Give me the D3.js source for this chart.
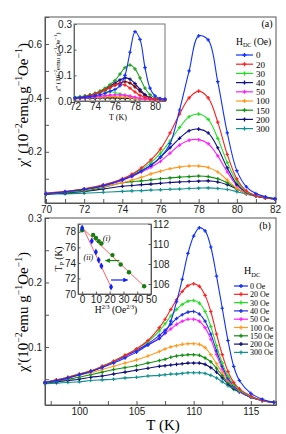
<!DOCTYPE html>
<html>
<head>
<meta charset="utf-8">
<script src="https://cdn.jsdelivr.net/npm/d3@7"></script>
<style>
  body { margin: 0; background: #fff; }
  svg { font-family: "Liberation Serif", "DejaVu Serif", serif; }
  .axis path { stroke: #555; }
  .axis line { stroke: #555; }
  .axis text { font-size: 10px; fill: #222; }
</style>
</head>
<body>
<div class="canvas"></div>
<script>
// ---------- data ----------
const fields = ['0', '20', '30', '40', '50', '100', '150', '200', '300'];
const colorsA = ['#1030ff', '#ff2020', '#20e020', '#10108a', '#ff20ff', '#ff9a20', '#109010', '#10107a', '#109090'];
const colorsB = ['#1030ff', '#ff2020', '#20e020', '#2030e0', '#ff20ff', '#ff9a20', '#109010', '#10107a', '#109090'];

// panel (a): chi' vs T
const tA = [70, 71, 72, 73, 74, 74.5, 75, 75.5, 76, 76.5, 77, 77.5, 78, 78.5, 79, 79.5, 80, 80.5, 81, 81.5, 82];
const a0   = [0.045, 0.052, 0.061, 0.075, 0.097, 0.11, 0.128, 0.15, 0.18, 0.23, 0.355, 0.5, 0.63, 0.615, 0.46, 0.27, 0.13, 0.07, 0.045, 0.033, 0.025];
const a20  = [0.046, 0.053, 0.063, 0.078, 0.1, 0.117, 0.14, 0.17, 0.21, 0.27, 0.34, 0.4, 0.425, 0.4, 0.31, 0.19, 0.1, 0.055, 0.038, 0.03, 0.025];
const a30  = [0.045, 0.052, 0.062, 0.076, 0.098, 0.114, 0.135, 0.16, 0.195, 0.24, 0.29, 0.33, 0.34, 0.32, 0.25, 0.16, 0.09, 0.052, 0.037, 0.03, 0.025];
const a40  = [0.044, 0.051, 0.06, 0.074, 0.096, 0.111, 0.13, 0.15, 0.18, 0.215, 0.25, 0.278, 0.284, 0.27, 0.215, 0.14, 0.08, 0.05, 0.036, 0.029, 0.025];
const a50  = [0.044, 0.051, 0.06, 0.073, 0.094, 0.108, 0.125, 0.143, 0.165, 0.195, 0.225, 0.243, 0.245, 0.23, 0.185, 0.125, 0.075, 0.048, 0.035, 0.029, 0.025];
const a100 = [0.045, 0.051, 0.058, 0.07, 0.085, 0.095, 0.105, 0.118, 0.128, 0.137, 0.143, 0.147, 0.147, 0.142, 0.125, 0.095, 0.065, 0.045, 0.035, 0.029, 0.025];
const a150 = [0.044, 0.049, 0.055, 0.068, 0.085, 0.089, 0.092, 0.096, 0.1, 0.103, 0.106, 0.108, 0.11, 0.108, 0.1, 0.085, 0.063, 0.045, 0.035, 0.029, 0.025];
const a200 = [0.043, 0.047, 0.053, 0.062, 0.072, 0.075, 0.078, 0.08, 0.083, 0.086, 0.088, 0.09, 0.091, 0.092, 0.088, 0.078, 0.062, 0.046, 0.036, 0.03, 0.026];
const a300 = [0.042, 0.044, 0.046, 0.05, 0.053, 0.055, 0.056, 0.058, 0.059, 0.061, 0.062, 0.064, 0.065, 0.066, 0.064, 0.06, 0.052, 0.043, 0.036, 0.031, 0.027];

// inset of (a): chi'' vs T
const tIn = [72, 72.5, 73, 73.5, 74, 74.5, 75, 75.5, 76, 76.5, 77, 77.5, 78, 78.5, 79, 79.5, 80, 80.5, 81];
const i0   = [0.012, 0.013, 0.015, 0.017, 0.02, 0.025, 0.03, 0.038, 0.045, 0.06, 0.1, 0.19, 0.27, 0.24, 0.13, 0.05, 0.02, 0.01, 0.008];
const i20  = [0.012, 0.014, 0.017, 0.021, 0.027, 0.034, 0.043, 0.053, 0.062, 0.066, 0.062, 0.05, 0.035, 0.022, 0.014, 0.01, 0.008, 0.007, 0.006];
const i30  = [0.013, 0.015, 0.018, 0.023, 0.03, 0.039, 0.05, 0.064, 0.08, 0.105, 0.13, 0.14, 0.125, 0.09, 0.05, 0.025, 0.012, 0.008, 0.006];
const i40  = [0.012, 0.014, 0.017, 0.022, 0.028, 0.036, 0.046, 0.058, 0.07, 0.082, 0.09, 0.085, 0.068, 0.045, 0.025, 0.013, 0.008, 0.006, 0.005];
const i50  = [0.011, 0.012, 0.013, 0.015, 0.017, 0.019, 0.021, 0.023, 0.024, 0.024, 0.022, 0.019, 0.015, 0.011, 0.008, 0.006, 0.005, 0.005, 0.004];
const i100 = [0.01, 0.011, 0.012, 0.013, 0.014, 0.015, 0.016, 0.017, 0.017, 0.016, 0.015, 0.013, 0.011, 0.009, 0.007, 0.006, 0.005, 0.004, 0.004];
const i150 = [0.015, 0.017, 0.02, 0.024, 0.029, 0.033, 0.036, 0.036, 0.033, 0.028, 0.022, 0.016, 0.012, 0.009, 0.007, 0.006, 0.005, 0.004, 0.004];
const i200 = [0.012, 0.014, 0.017, 0.021, 0.026, 0.033, 0.042, 0.052, 0.062, 0.07, 0.075, 0.07, 0.055, 0.038, 0.022, 0.012, 0.008, 0.006, 0.005];
const i300 = [0.009, 0.01, 0.01, 0.011, 0.011, 0.012, 0.012, 0.012, 0.012, 0.011, 0.011, 0.01, 0.009, 0.008, 0.007, 0.006, 0.005, 0.004, 0.004];

// panel (b): chi' vs T
const tB = [97, 98, 99, 100, 101, 102, 103, 104, 105, 106, 107, 107.5, 108, 108.5, 109, 109.5, 110, 110.5, 111, 111.5, 112, 112.5, 113, 113.5, 114, 115, 116, 117];
const b0   = [0.045, 0.048, 0.052, 0.057, 0.062, 0.068, 0.075, 0.083, 0.092, 0.103, 0.113, 0.122, 0.14, 0.17, 0.205, 0.245, 0.272, 0.285, 0.28, 0.255, 0.21, 0.16, 0.11, 0.07, 0.048, 0.028, 0.019, 0.014];
const b20  = [0.045, 0.049, 0.053, 0.058, 0.063, 0.07, 0.078, 0.087, 0.097, 0.11, 0.13, 0.143, 0.158, 0.173, 0.186, 0.195, 0.198, 0.194, 0.18, 0.155, 0.12, 0.088, 0.062, 0.045, 0.035, 0.024, 0.017, 0.014];
const b30  = [0.045, 0.049, 0.053, 0.058, 0.063, 0.07, 0.078, 0.087, 0.097, 0.108, 0.125, 0.136, 0.148, 0.158, 0.166, 0.171, 0.172, 0.168, 0.155, 0.132, 0.102, 0.075, 0.055, 0.042, 0.033, 0.023, 0.017, 0.014];
const b40  = [0.045, 0.048, 0.052, 0.057, 0.062, 0.069, 0.077, 0.086, 0.095, 0.105, 0.118, 0.126, 0.135, 0.144, 0.15, 0.154, 0.155, 0.151, 0.14, 0.12, 0.094, 0.07, 0.052, 0.04, 0.032, 0.022, 0.017, 0.014];
const b50  = [0.045, 0.048, 0.052, 0.057, 0.062, 0.069, 0.077, 0.085, 0.094, 0.103, 0.114, 0.121, 0.128, 0.135, 0.14, 0.143, 0.143, 0.14, 0.13, 0.112, 0.088, 0.066, 0.05, 0.039, 0.031, 0.022, 0.017, 0.014];
const b100 = [0.045, 0.048, 0.051, 0.056, 0.06, 0.065, 0.07, 0.075, 0.08, 0.086, 0.093, 0.097, 0.1, 0.102, 0.104, 0.105, 0.105, 0.104, 0.099, 0.088, 0.074, 0.06, 0.048, 0.039, 0.033, 0.022, 0.017, 0.014];
const b150 = [0.045, 0.047, 0.05, 0.053, 0.057, 0.061, 0.065, 0.068, 0.071, 0.075, 0.079, 0.081, 0.084, 0.086, 0.087, 0.088, 0.088, 0.087, 0.083, 0.077, 0.067, 0.056, 0.045, 0.037, 0.031, 0.022, 0.017, 0.014];
const b200 = [0.044, 0.046, 0.048, 0.05, 0.053, 0.055, 0.058, 0.061, 0.064, 0.067, 0.07, 0.071, 0.072, 0.073, 0.074, 0.075, 0.075, 0.075, 0.073, 0.068, 0.061, 0.052, 0.043, 0.036, 0.031, 0.022, 0.017, 0.014];
const b300 = [0.043, 0.044, 0.045, 0.046, 0.048, 0.049, 0.05, 0.052, 0.053, 0.055, 0.056, 0.057, 0.058, 0.058, 0.059, 0.06, 0.06, 0.06, 0.059, 0.056, 0.052, 0.046, 0.04, 0.034, 0.03, 0.022, 0.017, 0.014];

// inset of (b): peak temperature vs H^(2/3)
const hI  = [0, 8, 10, 12, 14, 22, 28, 34, 45];
const tpI = [78.2, 77.6, 77.2, 76.8, 76.5, 75.0, 73.8, 72.8, 71.0];
const hII  = [0, 7, 10, 12, 14, 21];
const tpII = [111.6, 110.3, 109.2, 108.4, 107.8, 105.7];
const fitI  = [[0, 78.5], [45, 71.0]];
const fitII = [[0, 111.8], [21, 105.7]];

// ---------- layout ----------
const W = 286, H = 434;
const svg = d3.select('.canvas').append('svg')
  .attr('width', W)
  .attr('height', H);

const frameA = { left: 45, right: 276, top: 17, bottom: 203 };
const frameB = { left: 45, right: 276, top: 218, bottom: 405 };

// rich text helper: parts = [[text, kind], ...]
function richText(sel, parts, size) {
  parts.forEach(([t, kind]) => {
    const ts = sel.append('tspan').text(t);
    if (kind === 'sup') ts.attr('font-size', size * 0.65).attr('dy', -size * 0.38);
    if (kind === 'sub') ts.attr('font-size', size * 0.65).attr('dy', size * 0.25);
    if (kind === 'back') ts.attr('dy', size * 0.38);
    if (kind === 'backsub') ts.attr('dy', -size * 0.25);
  });
}

function drawSeries(g, x, y, xs, ys, color, sym) {
  const pts = xs.map((t, i) => [t, ys[i]]);
  const line = d3.line().x(d => x(d[0])).y(d => y(d[1])).curve(d3.curveCatmullRom);
  g.append('path')
    .attr('d', line(pts))
    .attr('fill', 'none')
    .attr('stroke', color)
    .attr('stroke-width', 1.1);
  if (sym) {
    g.selectAll(null).data(pts).enter().append('path')
      .attr('d', d3.symbol().type(d3.symbolCross).size(7))
      .attr('transform', d => `translate(${x(d[0])},${y(d[1])})`)
      .attr('fill', color);
  }
}

// ---------- panel (a) ----------
const xA = d3.scaleLinear().domain([70, 82]).range([46, 275]);
const yA = d3.scaleLinear().domain([0.01, 0.70]).range([frameA.bottom, frameA.top]);

svg.append('g').attr('class', 'axis')
  .attr('transform', `translate(0, ${frameA.bottom})`)
  .call(d3.axisBottom(xA).tickValues(d3.range(70, 83, 1)).tickSize(-4).tickPadding(3)
    .tickFormat(d => d % 2 === 0 ? d : ''));
svg.append('g').attr('class', 'axis')
  .attr('transform', `translate(${frameA.left}, 0)`)
  .call(d3.axisLeft(yA).tickValues([0.1, 0.2, 0.3, 0.4, 0.5, 0.6]).tickSize(-4).tickPadding(3)
    .tickFormat(d => [0.2, 0.4, 0.6].includes(d) ? d.toFixed(1) : ''));
svg.append('rect')
  .attr('x', frameA.left).attr('y', frameA.top)
  .attr('width', frameA.right - frameA.left).attr('height', frameA.bottom - frameA.top)
  .attr('fill', 'none').attr('stroke', '#555');

const gA = svg.append('g');
const seriesA = [a0, a20, a30, a40, a50, a100, a150, a200, a300];
seriesA.slice().reverse().forEach((s, k) => {
  const i = seriesA.length - 1 - k;
  drawSeries(gA, xA, yA, tA, s, colorsA[i], true);
});

svg.append('text')
  .attr('transform', `translate(28, 105) rotate(-90)`)
  .attr('text-anchor', 'middle')
  .attr('font-size', 15)
  .call(richText, [["χ' (10", null], ['−2', 'sup'], ['emu g', 'back'], ['−1', 'sup'], ['Oe', 'back'], ['−1', 'sup'], [')', 'back']], 15);

svg.append('text').attr('x', 267).attr('y', 27).attr('text-anchor', 'middle')
  .attr('font-size', 10).text('(a)');

// legend (a)
const legA = svg.append('g');
legA.append('text').attr('x', 236).attr('y', 45).attr('font-size', 9.5)
  .call(richText, [['H', null], ['DC', 'sub'], [' (Oe)', 'backsub']], 9.5);
fields.forEach((f, i) => {
  const yy = 55 + i * 9.2;
  legA.append('line').attr('x1', 236).attr('x2', 253).attr('y1', yy).attr('y2', yy)
    .attr('stroke', colorsA[i]).attr('stroke-width', 1.2);
  legA.append('path').attr('d', d3.symbol().type(d3.symbolCross).size(9))
    .attr('transform', `translate(244.5,${yy})`).attr('fill', colorsA[i]);
  legA.append('text').attr('x', 256).attr('y', yy + 3.3).attr('font-size', 9).text(f);
});

// inset (a)
const inA = { left: 74, right: 165, top: 24, bottom: 101 };
const xIa = d3.scaleLinear().domain([72, 81]).range([75, 165]);
const yIa = d3.scaleLinear().domain([0, 0.3]).range([inA.bottom, inA.top]);
svg.append('rect')
  .attr('x', inA.left).attr('y', inA.top)
  .attr('width', inA.right - inA.left).attr('height', inA.bottom - inA.top)
  .attr('fill', '#fff').attr('stroke', 'none');
const inAxX = svg.append('g').attr('class', 'axis')
  .attr('transform', `translate(0, ${inA.bottom})`)
  .call(d3.axisBottom(xIa).tickValues([72, 73, 74, 75, 76, 77, 78, 79, 80, 81]).tickSize(-2.5).tickPadding(2)
    .tickFormat(d => d % 2 === 0 ? d : ''));
const inAxY = svg.append('g').attr('class', 'axis')
  .attr('transform', `translate(${inA.left}, 0)`)
  .call(d3.axisLeft(yIa).tickValues([0, 0.1, 0.2, 0.3]).tickSize(-2.5).tickPadding(2)
    .tickFormat(d3.format('.1f')));
inAxX.selectAll('text').attr('font-size', 7);
inAxY.selectAll('text').attr('font-size', 7);
svg.append('rect')
  .attr('x', inA.left).attr('y', inA.top)
  .attr('width', inA.right - inA.left).attr('height', inA.bottom - inA.top)
  .attr('fill', 'none').attr('stroke', '#777');
const gIa = svg.append('g');
const seriesIn = [i0, i20, i30, i40, i50, i100, i150, i200, i300];
const colorsIn = ['#1030ff', '#ff2020', '#20a020', '#10108a', '#ff20ff', '#ff9a20', '#30ff30', '#800000', '#101010'];
seriesIn.slice().reverse().forEach((s, k) => {
  const i = seriesIn.length - 1 - k;
  drawSeries(gIa, xIa, yIa, tIn, s, colorsIn[i], true);
});
svg.append('text')
  .attr('transform', `translate(60, 62) rotate(-90)`)
  .attr('text-anchor', 'middle')
  .attr('font-size', 7)
  .call(richText, [["χ'' (10", null], ['−2', 'sup'], ['emu g', 'back'], ['−1', 'sup'], ['Oe', 'back'], ['−1', 'sup'], [')', 'back']], 7);
svg.append('text').attr('x', 118).attr('y', 120).attr('text-anchor', 'middle')
  .attr('font-size', 8).text('T (K)');

// ---------- panel (b) ----------
const xB = d3.scaleLinear().domain([97, 117.2]).range([frameB.left, frameB.right]);
const yB = d3.scaleLinear().domain([0.01, 0.30]).range([frameB.bottom, frameB.top]);

svg.append('g').attr('class', 'axis')
  .attr('transform', `translate(0, ${frameB.bottom})`)
  .call(d3.axisBottom(xB).tickValues(d3.range(97.5, 117.5, 2.5)).tickSize(-4).tickPadding(3)
    .tickFormat(d => d % 5 === 0 ? d : ''));
svg.append('g').attr('class', 'axis')
  .attr('transform', `translate(${frameB.left}, 0)`)
  .call(d3.axisLeft(yB).tickValues([0.05, 0.1, 0.15, 0.2, 0.25, 0.3]).tickSize(-4).tickPadding(3)
    .tickFormat(d => [0.1, 0.2, 0.3].includes(d) ? d.toFixed(1) : ''));
svg.append('rect')
  .attr('x', frameB.left).attr('y', frameB.top)
  .attr('width', frameB.right - frameB.left).attr('height', frameB.bottom - frameB.top)
  .attr('fill', 'none').attr('stroke', '#555');

const gB = svg.append('g');
const seriesB = [b0, b20, b30, b40, b50, b100, b150, b200, b300];
seriesB.slice().reverse().forEach((s, k) => {
  const i = seriesB.length - 1 - k;
  drawSeries(gB, xB, yB, tB, s, colorsB[i], true);
});

svg.append('text')
  .attr('transform', `translate(28, 312) rotate(-90)`)
  .attr('text-anchor', 'middle')
  .attr('font-size', 15)
  .call(richText, [["χ'(10", null], ['−2', 'sup'], ['emu g', 'back'], ['−1', 'sup'], ['Oe', 'back'], ['−1', 'sup'], [')', 'back']], 15);
svg.append('text').attr('x', 163).attr('y', 430).attr('text-anchor', 'middle')
  .attr('font-size', 15).text('T (K)');
svg.append('text').attr('x', 265).attr('y', 229).attr('text-anchor', 'middle')
  .attr('font-size', 10).text('(b)');

// legend (b)
const legB = svg.append('g');
legB.append('text').attr('x', 244).attr('y', 274).attr('font-size', 10)
  .call(richText, [['H', null], ['DC', 'sub']], 10);
fields.forEach((f, i) => {
  const yy = 286 + i * 8.3;
  legB.append('line').attr('x1', 234).attr('x2', 248).attr('y1', yy).attr('y2', yy)
    .attr('stroke', colorsB[i]).attr('stroke-width', 1.2);
  legB.append('path').attr('d', d3.symbol().type(d3.symbolCross).size(9))
    .attr('transform', `translate(241,${yy})`).attr('fill', colorsB[i]);
  legB.append('text').attr('x', 250).attr('y', yy + 3).attr('font-size', 8).text(f + ' Oe');
});

// inset (b)
const inB = { left: 78, right: 151, top: 224, bottom: 294 };
const xIb = d3.scaleLinear().domain([-3, 50]).range([inB.left, inB.right]);
const yIbL = d3.scaleLinear().domain([70, 79]).range([inB.bottom, inB.top]);
const yIbR = d3.scaleLinear().domain([105, 112]).range([inB.bottom, inB.top]);
svg.append('rect')
  .attr('x', inB.left).attr('y', inB.top)
  .attr('width', inB.right - inB.left).attr('height', inB.bottom - inB.top)
  .attr('fill', '#fff').attr('stroke', '#777');
const ibx = svg.append('g').attr('class', 'axis')
  .attr('transform', `translate(0, ${inB.bottom})`)
  .call(d3.axisBottom(xIb).tickValues([0, 10, 20, 30, 40, 50]).tickSize(-2.5).tickPadding(2)
    .tickFormat(d3.format('d')));
const ibl = svg.append('g').attr('class', 'axis')
  .attr('transform', `translate(${inB.left}, 0)`)
  .call(d3.axisLeft(yIbL).tickValues([70, 72, 74, 76, 78]).tickSize(-2.5).tickPadding(2)
    .tickFormat(d3.format('d')));
const ibr = svg.append('g').attr('class', 'axis')
  .attr('transform', `translate(${inB.right}, 0)`)
  .call(d3.axisRight(yIbR).tickValues([106, 108, 110, 112]).tickSize(-2.5).tickPadding(2)
    .tickFormat(d3.format('d')));
[ibx, ibl, ibr].forEach(a => a.selectAll('text').attr('font-size', 7));

const lineI = d3.line().x(d => xIb(d[0])).y(d => yIbL(d[1]));
const lineII = d3.line().x(d => xIb(d[0])).y(d => yIbR(d[1]));
svg.append('path').attr('d', lineI(fitI)).attr('stroke', '#ff6060').attr('fill', 'none');
svg.append('path').attr('d', lineII(fitII)).attr('stroke', '#ff6060').attr('fill', 'none');
svg.selectAll('.pI').data(hI.map((h, i) => [h, tpI[i]])).enter().append('circle')
  .attr('cx', d => xIb(d[0])).attr('cy', d => yIbL(d[1])).attr('r', 2.2).attr('fill', '#108010');
svg.selectAll('.pII').data(hII.map((h, i) => [h, tpII[i]])).enter().append('path')
  .attr('d', d3.symbol().type(d3.symbolDiamond).size(14))
  .attr('transform', d => `translate(${xIb(d[0])},${yIbR(d[1])})`).attr('fill', '#1020ff');

// arrows
svg.append('defs').html(
  '<marker id="ag" viewBox="0 0 10 10" refX="9" refY="5" markerWidth="4" markerHeight="4" orient="auto"><path d="M0,0L10,5L0,10z" fill="#108010"/></marker>' +
  '<marker id="ab" viewBox="0 0 10 10" refX="9" refY="5" markerWidth="4" markerHeight="4" orient="auto"><path d="M0,0L10,5L0,10z" fill="#1020ff"/></marker>');
svg.append('line').attr('x1', xIb(27)).attr('x2', xIb(17)).attr('y1', yIbL(74.3)).attr('y2', yIbL(74.3))
  .attr('stroke', '#108010').attr('stroke-width', 1.2).attr('marker-end', 'url(#ag)');
svg.append('line').attr('x1', xIb(21)).attr('x2', xIb(33)).attr('y1', yIbL(71.8)).attr('y2', yIbL(71.8))
  .attr('stroke', '#1020ff').attr('stroke-width', 1.2).attr('marker-end', 'url(#ab)');
svg.append('text').attr('x', xIb(15)).attr('y', yIbL(76.8)).attr('font-size', 8).attr('font-style', 'italic').text('(i)');
svg.append('text').attr('x', xIb(1)).attr('y', yIbL(74.4)).attr('font-size', 8).attr('font-style', 'italic').text('(ii)');

svg.append('text')
  .attr('transform', `translate(62, 259) rotate(-90)`)
  .attr('text-anchor', 'middle')
  .attr('font-size', 9.5)
  .call(richText, [['T', null], ['P', 'sub'], [' (K)', 'backsub']], 9.5);
svg.append('text').attr('x', 116).attr('y', 313).attr('text-anchor', 'middle')
  .attr('font-size', 9.5)
  .call(richText, [['H', null], ['2/3', 'sup'], [' (Oe', 'back'], ['2/3', 'sup'], [')', 'back']], 9.5);
</script>
</body>
</html>
